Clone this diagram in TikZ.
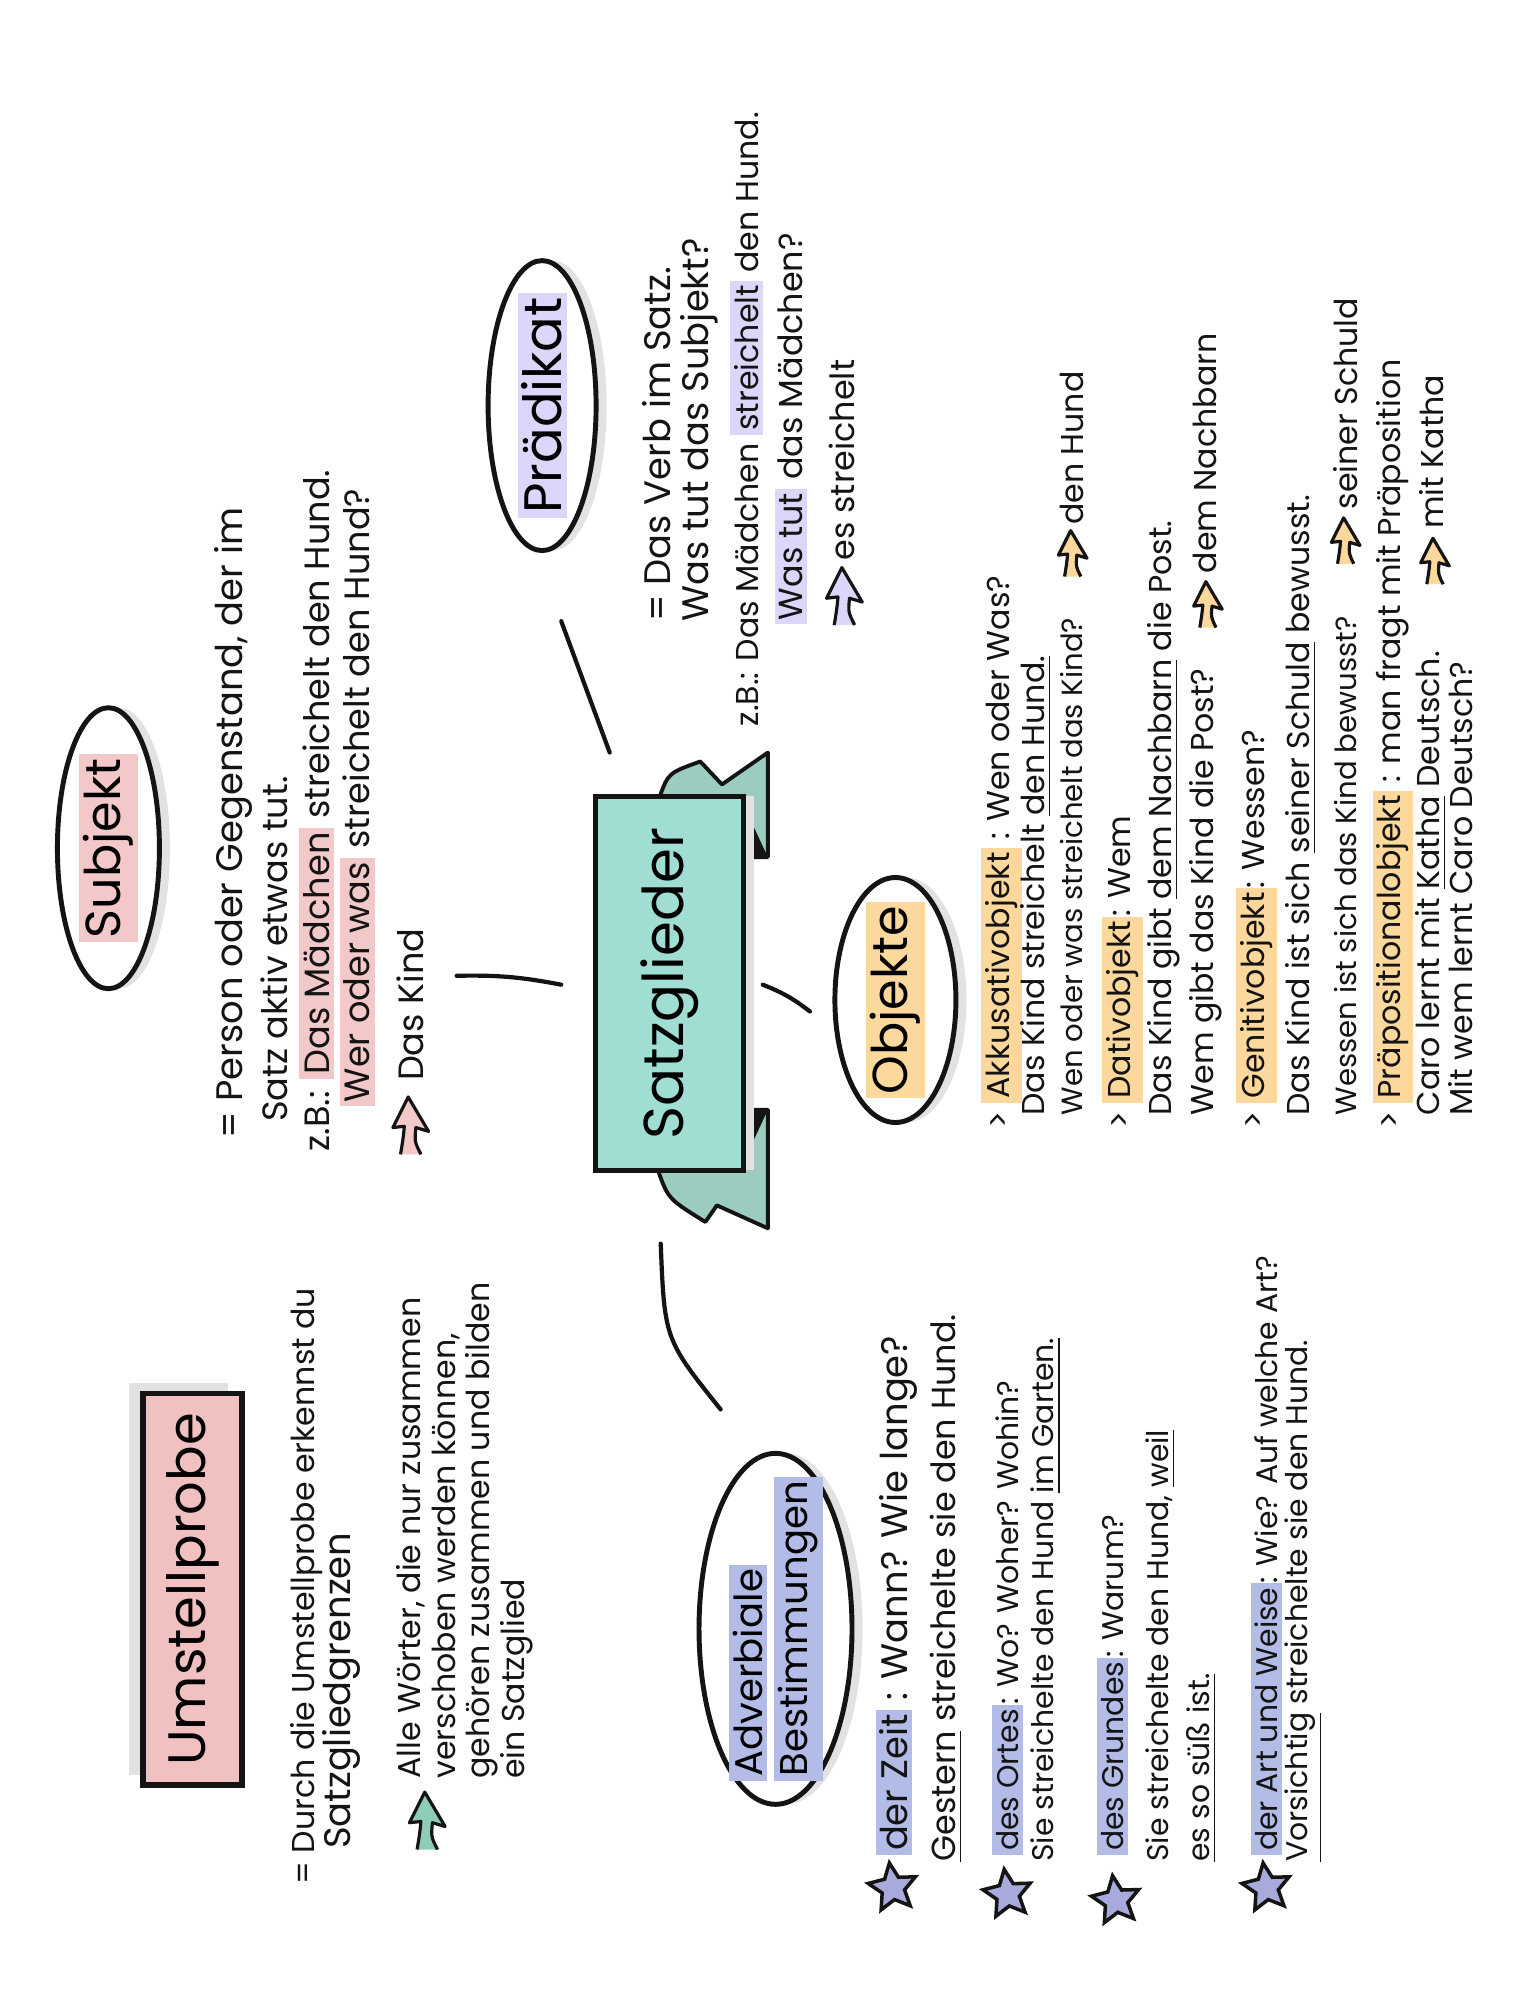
\documentclass[tikz,border=0pt]{standalone}
\usepackage{fontspec}
\setmainfont{Poppins}
\usepackage{xcolor}
\usepackage{tikz}
\usetikzlibrary{shapes.geometric, arrows.meta, positioning, calc}
\definecolor{inkdark}{RGB}{20,20,20}
\definecolor{shadowgray}{RGB}{226,226,226}
\definecolor{satzteal}{RGB}{160,222,212}
\definecolor{ribbonteal}{RGB}{156,204,192}
\definecolor{probepink}{RGB}{241,192,192}
\definecolor{pinkhl}{RGB}{243,200,200}
\definecolor{lilachl}{RGB}{222,214,250}
\definecolor{orangehl}{RGB}{252,216,156}
\definecolor{bluehl}{RGB}{178,188,230}
\definecolor{starlilac}{RGB}{168,170,220}
\definecolor{arrowteal}{RGB}{142,204,184}
\newcommand{\hilite}[2]{{\setlength{\fboxsep}{1.2pt}\colorbox{#1}{#2}}}
\tikzset{
  bubble/.style={ellipse, draw=inkdark, fill=white, line width=1.4pt,
    rotate=90, inner sep=0pt,
    preaction={fill=shadowgray, transform canvas={xshift=3pt}}},
  bubbletext/.style={rotate=90, inner sep=0pt, align=left,
    font=\fontsize{#1}{#1}\selectfont},
  banner/.style={rectangle, draw=inkdark, fill=satzteal, line width=1.4pt,
    rotate=90, inner sep=0pt, font=\fontsize{16}{18}\selectfont,
    preaction={fill=shadowgray, transform canvas={xshift=3pt}}},
  probebox/.style={rectangle, draw=inkdark, fill=probepink, line width=1.6pt,
    rotate=90, inner sep=0pt, font=\fontsize{15}{17}\selectfont,
    preaction={fill=shadowgray, transform canvas={xshift=-4pt, yshift=3pt}}},
  note/.style={rotate=90, anchor=west, inner sep=0pt, text=inkdark,
    font=\fontsize{#1}{#1}\selectfont},
  note/.default=9,
  starmark/.style={star, star points=5, star point ratio=2.1, fill=starlilac,
    draw=inkdark, line width=1pt, minimum size=0.5cm, inner sep=0pt, rotate=80},
  link/.style={line width=1.2pt, color=inkdark, line cap=round},
  pics/pointer/.style={code={
    \filldraw[fill=#1, draw=inkdark, line width=0.9pt, line join=round]
      (-8,0) .. controls (-6,-12) .. (-5,-22) -- (-14,-21) -- (-2,-45)
      -- (14,-18) -- (4,-21) .. controls (3,-10) .. (8,0);
  }}
}

\begin{document}
\begin{tikzpicture}[x=0.012755cm, y=-0.012755cm]
  \fill[white] (0,0) rectangle (1195,1568);
  \useasboundingbox (0,0) rectangle (1195,1568);

  % Ribbon ends behind the title
  \filldraw[fill=ribbonteal, draw=inkdark, line width=1.1pt, line join=round]
    (517,625) .. controls (524,606) .. (549,597) -- (566,615) -- (602,590) -- (602,672) -- (580,672) -- (580,625) -- cycle;
  \fill[inkdark] (580,625) -- (602,672) -- (580,672) -- cycle;
  \filldraw[fill=ribbonteal, draw=inkdark, line width=1.1pt, line join=round]
    (516,918) .. controls (524,940) .. (553,958) -- (562,945) -- (602,963) -- (602,870) -- (580,870) -- (580,918) -- cycle;
  \fill[inkdark] (580,870) -- (602,870) -- (582,913) -- cycle;

  % Title
  \node[banner, minimum width=3.74cm, minimum height=1.48cm] (satz) at (525,771) {Satzglieder};

  % Bubbles
  \node[bubble, minimum width=2.81cm, minimum height=1.02cm] (subj) at (85,665) {};
  \node[bubbletext=14] (subjtitle) at (subj.center) {\hilite{pinkhl}{Subjekt}};
  \node[bubble, minimum width=2.90cm, minimum height=1.08cm] (praed) at (425,318) {};
  \node[bubbletext=15] (praedtitle) at (praed.center) {\hilite{lilachl}{Prädikat}};
  \node[bubble, minimum width=2.45cm, minimum height=1.21cm] (obj) at (702,784) {};
  \node[bubbletext=14] (objtitle) at (obj.center) {\hilite{orangehl}{Objekte}};
  \node[bubble, minimum width=3.51cm, minimum height=1.53cm] (adv) at (608,1277) {};
  \node[bubbletext=11] (advtitle) at (adv.center) {\hilite{bluehl}{Adverbiale}\\[2pt]\hilite{bluehl}{Bestimmungen}};
  \node[probebox, minimum width=3.92cm, minimum height=0.99cm] (probe) at (151,1246) {Umstellprobe};

  % Connectors
  \coordinate (subjfoot) at (440,772);
  \coordinate (subjtip) at (358,765);
  \coordinate (praedfoot) at (478,590);
  \coordinate (praedtip) at (440,487);
  \coordinate (objfoot) at (598,772);
  \coordinate (objtip) at (635,793);
  \coordinate (advfoot) at (518,975);
  \coordinate (advtip) at (565,1105);
  \draw[link] (subjfoot) to[bend right=6] (subjtip);
  \draw[link] (praedfoot) -- (praedtip);
  \draw[link] (objfoot) to[bend left=8] (objtip);
  \draw[link] (advfoot) .. controls (521,1050) .. (advtip);

  % Subjekt
  \node[note=10.5] (subjdef) at (183,893) {= Person oder Gegenstand, der im};
  \node[note=10] (subjdefb) at (215,880) {Satz aktiv etwas tut.};
  \node[note=10] (subjbsp) at (248,903) {z.B.: \hilite{pinkhl}{Das Mädchen} streichelt den Hund.};
  \node[note=10] (subjfrage) at (280,868) {\hilite{pinkhl}{Wer oder was} streichelt den Hund?};
  \pic at (322,905) {pointer=pinkhl};
  \node[note=10] (subjantw) at (322,848) {Das Kind};

  % Praedikat
  \node[note=10.5] (praeddef) at (515,488) {= Das Verb im Satz.};
  \node[note=10.5] (praeddefb) at (548,488) {Was tut das Subjekt?};
  \node[note=9] (praedbsp) at (585,570) {z.B.: Das Mädchen \hilite{lilachl}{streichelt} den Hund.};
  \node[note=9.5] (praedfrage) at (620,490) {\hilite{lilachl}{Was tut} das Mädchen?};
  \pic at (662,490) {pointer=lilachl};
  \node[note=9.5] (praedantw) at (660,440) {es streichelt};

  % Objekte
  \node[note] (akk) at (785,885) {> \hilite{orangehl}{Akkusativobjekt} : Wen oder Was?};
  \node[note] (akkbsp) at (812,875) {Das Kind streichelt \underline{den Hund.}};
  \node[note=8.3] (akkfrage) at (840,875) {Wen oder was streichelt das Kind?};
  \pic[scale=0.8] at (841,452) {pointer=orangehl};
  \node[note] (akkantw) at (840,412) {den Hund};
  \node[note] (dat) at (880,885) {> \hilite{orangehl}{Dativobjekt}: Wem};
  \node[note] (datbsp) at (912,875) {Das Kind gibt \underline{dem Nachbarn} die Post.};
  \node[note] (datfrage) at (945,875) {Wem gibt das Kind die Post?};
  \pic[scale=0.8] at (947,492) {pointer=orangehl};
  \node[note] (datantw) at (945,450) {dem Nachbarn};
  \node[note] (gen) at (985,885) {> \hilite{orangehl}{Genitivobjekt}: Wessen?};
  \node[note] (genbsp) at (1020,875) {Das Kind ist sich \underline{seiner Schuld} bewusst.};
  \node[note=8.3] (genfrage) at (1055,875) {Wessen ist sich das Kind bewusst?};
  \pic[scale=0.8] at (1055,442) {pointer=orangehl};
  \node[note] (genantw) at (1055,400) {seiner Schuld};
  \node[note] (praep) at (1092,885) {> \hilite{orangehl}{Präpositionalobjekt} : man fragt mit Präposition};
  \node[note] (praepbsp) at (1122,875) {Caro lernt mit \underline{Katha} Deutsch.};
  \pic[scale=0.8] at (1125,458) {pointer=orangehl};
  \node[note] (praepantw) at (1122,415) {mit Katha};
  \node[note] (praepfrage) at (1145,875) {Mit wem lernt Caro Deutsch?};

  % Umstellprobe
  \node[note] (probedef) at (240,1478) {= Durch die Umstellprobe erkennst du};
  \node[note=10.5] (probedefb) at (268,1450) {Satzgliedgrenzen};
  \pic at (335,1450) {pointer=arrowteal};
  \node[note] (probeall) at (322,1395) {Alle Wörter, die nur zusammen};
  \node[note] (probeallb) at (350,1395) {verschoben werden können,};
  \node[note] (probeallc) at (378,1395) {gehören zusammen und bilden};
  \node[note] (probealld) at (405,1395) {ein Satzglied};

  % Adverbiale Bestimmungen
  \node[starmark] (starzeit) at (700,1480) {};
  \node[note=10.5] (zeit) at (703,1455) {\hilite{bluehl}{der Zeit} : Wann? Wie lange?};
  \node[note=9.5] (zeitbsp) at (742,1460) {\underline{Gestern} streichelte sie den Hund.};
  \node[starmark] (starort) at (790,1485) {};
  \node[note=8.5] (ort) at (790,1455) {\hilite{bluehl}{des Ortes}: Wo? Woher? Wohin?};
  \node[note=8.5] (ortbsp) at (820,1460) {Sie streichelte den Hund \underline{im Garten.}};
  \node[starmark] (stargrund) at (875,1490) {};
  \node[note=8.5] (grund) at (872,1455) {\hilite{bluehl}{des Grundes}: Warum?};
  \node[note=8.5] (grundbsp) at (910,1460) {Sie streichelte den Hund, \underline{weil}};
  \node[note=8.5] (grundbspb) at (942,1460) {\underline{es so süß ist.}};
  \node[starmark] (starart) at (993,1480) {};
  \node[note=8.5] (art) at (993,1455) {\hilite{bluehl}{der Art und Weise}: Wie? Auf welche Art?};
  \node[note=8.5] (artbsp) at (1022,1460) {\underline{Vorsichtig} streichelte sie den Hund.};
\end{tikzpicture}
\end{document}
